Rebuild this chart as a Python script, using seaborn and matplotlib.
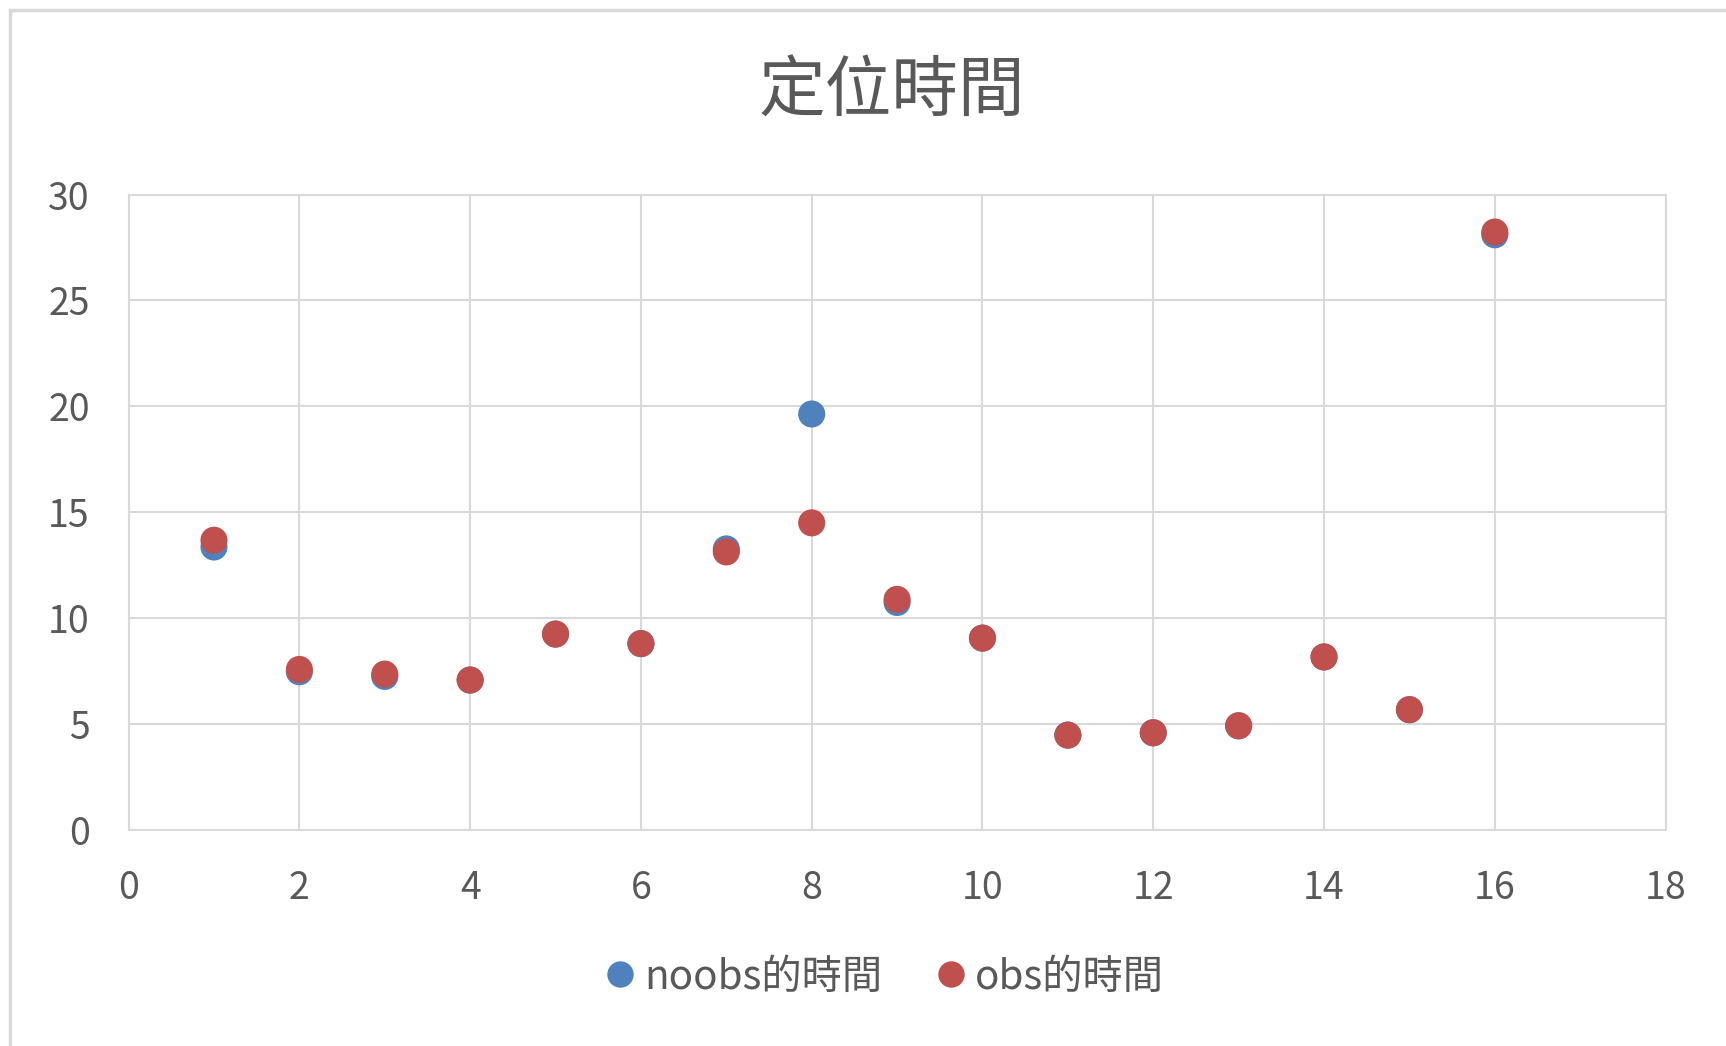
import pandas as pd
import numpy as np
import matplotlib
matplotlib.use("Agg")
import matplotlib.pyplot as plt
import seaborn as sns
from matplotlib.patches import Rectangle

# datos
x_vals = [1, 2, 3, 4, 5, 6, 7, 8, 9, 10, 11, 12, 13, 14, 15, 16]
noobs_tiempo = [13.36, 7.47, 7.25, 7.08, 9.25, 8.8, 13.27, 19.64, 10.74, 9.06, 4.48, 4.59, 4.92, 8.17, 5.68, 28.1]
obs_tiempo = [13.68, 7.58, 7.36, 7.08, 9.25, 8.8, 13.13, 14.5, 10.89, 9.06, 4.48, 4.59, 4.92, 8.17, 5.68, 28.23]
series = ["noobs的時間", "obs的時間"]
colores = ["#4F81BD", "#C0504D"]
titulo = "定位時間"

sns.set_theme(style="white")
plt.rcParams['font.family'] = ['Noto Sans CJK TC', 'DejaVu Sans']

df = pd.DataFrame({
    "x": x_vals + x_vals,
    "tiempo": noobs_tiempo + obs_tiempo,
    "serie": [series[0]] * len(x_vals) + [series[1]] * len(x_vals),
})

fig = plt.figure(figsize=(17.26, 10.46), dpi=100)
ax = fig.add_axes([0.0745, 0.2065, 0.8905, 0.6075])

sns.scatterplot(data=df, x="x", y="tiempo", hue="serie", hue_order=series,
                palette=colores, s=380, edgecolor="none", linewidth=0,
                legend=False, ax=ax, zorder=3)

ax.set_xlim(0, 18)
ax.set_ylim(0, 30)
ax.set_xticks(np.arange(0, 19, 2))
ax.set_yticks(np.arange(0, 31, 5))
ax.grid(True, color="#D9D9D9", linewidth=1.5)
ax.set_axisbelow(True)
for sp in ax.spines.values():
    sp.set_color("#D9D9D9")
    sp.set_linewidth(1.5)
ax.tick_params(axis="both", length=0, labelsize=27, colors="#595959")
ax.tick_params(axis="x", pad=28)
ax.tick_params(axis="y", pad=28)
ax.set_xlabel("")
ax.set_ylabel("")

fig.text(0.517, 1 - 93 / 1046, titulo, ha="center", va="center",
         fontsize=48, color="#595959")

handles = [plt.Line2D([], [], marker="o", linestyle="none", markersize=19,
                      markerfacecolor=c, markeredgecolor="none") for c in colores]
fig.legend(handles, series, loc="center", bbox_to_anchor=(0.511, 1 - 977 / 1046),
           ncol=2, frameon=False, fontsize=29, labelcolor="#595959",
           handletextpad=0.1, columnspacing=1.2, handlelength=1.0)

# borde del grafico
fig.add_artist(Rectangle((10 / 1726, -0.5), 2, 0.5 + 1 - 10 / 1046,
                         transform=fig.transFigure, fill=False,
                         edgecolor="#D9D9D9", linewidth=2.5))

fig.savefig("out.png", dpi=100, facecolor="white")
